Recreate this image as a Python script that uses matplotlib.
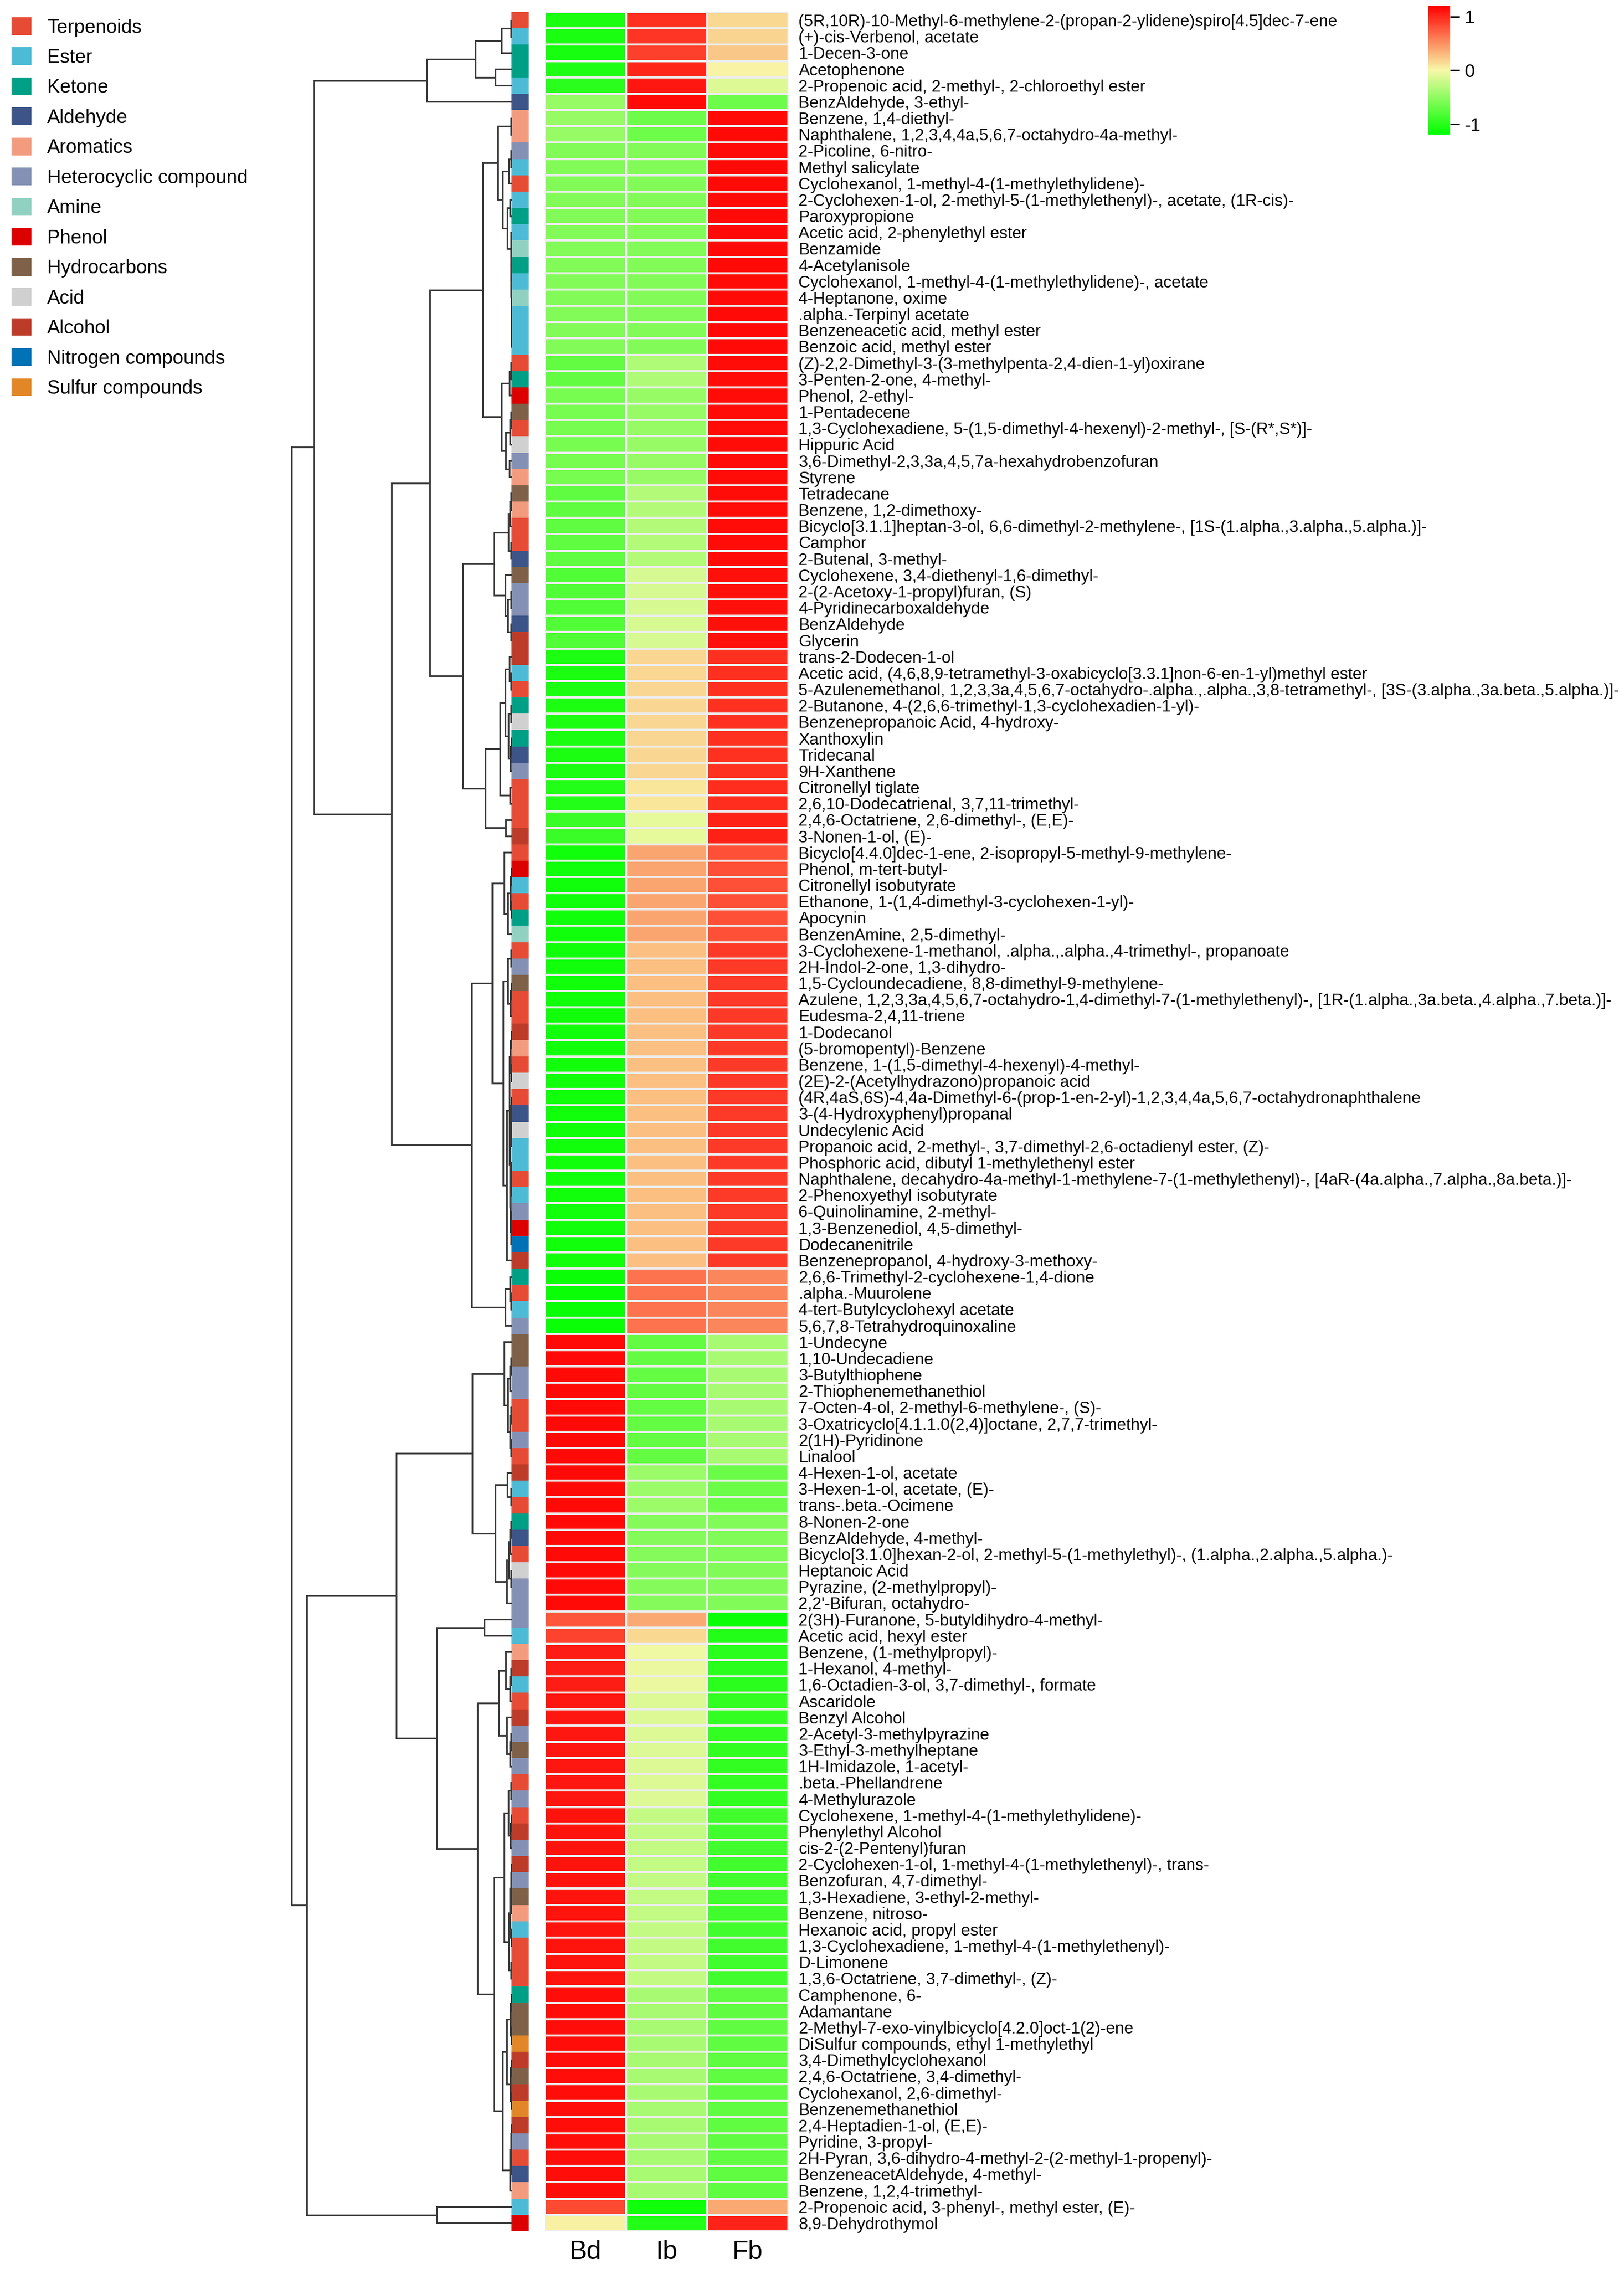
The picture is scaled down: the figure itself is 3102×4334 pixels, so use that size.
import matplotlib
matplotlib.use('Agg')
import matplotlib.pyplot as plt
import numpy as np
from matplotlib.colors import LinearSegmentedColormap, ListedColormap, Normalize, BoundaryNorm
from matplotlib.cm import ScalarMappable
from matplotlib.patches import Patch

plt.rcParams['font.family'] = ['Liberation Sans', 'DejaVu Sans']
plt.rcParams['axes.unicode_minus'] = False

samples = ['Bd', 'Ib', 'Fb']

compounds = [
    '(5R,10R)-10-Methyl-6-methylene-2-(propan-2-ylidene)spiro[4.5]dec-7-ene',
    '(+)-cis-Verbenol, acetate',
    '1-Decen-3-one',
    'Acetophenone',
    '2-Propenoic acid, 2-methyl-, 2-chloroethyl ester',
    'BenzAldehyde, 3-ethyl-',
    'Benzene, 1,4-diethyl-',
    'Naphthalene, 1,2,3,4,4a,5,6,7-octahydro-4a-methyl-',
    '2-Picoline, 6-nitro-',
    'Methyl salicylate',
    'Cyclohexanol, 1-methyl-4-(1-methylethylidene)-',
    '2-Cyclohexen-1-ol, 2-methyl-5-(1-methylethenyl)-, acetate, (1R-cis)-',
    'Paroxypropione',
    'Acetic acid, 2-phenylethyl ester',
    'Benzamide',
    '4-Acetylanisole',
    'Cyclohexanol, 1-methyl-4-(1-methylethylidene)-, acetate',
    '4-Heptanone, oxime',
    '.alpha.-Terpinyl acetate',
    'Benzeneacetic acid, methyl ester',
    'Benzoic acid, methyl ester',
    '(Z)-2,2-Dimethyl-3-(3-methylpenta-2,4-dien-1-yl)oxirane',
    '3-Penten-2-one, 4-methyl-',
    'Phenol, 2-ethyl-',
    '1-Pentadecene',
    '1,3-Cyclohexadiene, 5-(1,5-dimethyl-4-hexenyl)-2-methyl-, [S-(R*,S*)]-',
    'Hippuric Acid',
    '3,6-Dimethyl-2,3,3a,4,5,7a-hexahydrobenzofuran',
    'Styrene',
    'Tetradecane',
    'Benzene, 1,2-dimethoxy-',
    'Bicyclo[3.1.1]heptan-3-ol, 6,6-dimethyl-2-methylene-, [1S-(1.alpha.,3.alpha.,5.alpha.)]-',
    'Camphor',
    '2-Butenal, 3-methyl-',
    'Cyclohexene, 3,4-diethenyl-1,6-dimethyl-',
    '2-(2-Acetoxy-1-propyl)furan, (S)',
    '4-Pyridinecarboxaldehyde',
    'BenzAldehyde',
    'Glycerin',
    'trans-2-Dodecen-1-ol',
    'Acetic acid, (4,6,8,9-tetramethyl-3-oxabicyclo[3.3.1]non-6-en-1-yl)methyl ester',
    '5-Azulenemethanol, 1,2,3,3a,4,5,6,7-octahydro-.alpha.,.alpha.,3,8-tetramethyl-, [3S-(3.alpha.,3a.beta.,5.alpha.)]-',
    '2-Butanone, 4-(2,6,6-trimethyl-1,3-cyclohexadien-1-yl)-',
    'Benzenepropanoic Acid, 4-hydroxy-',
    'Xanthoxylin',
    'Tridecanal',
    '9H-Xanthene',
    'Citronellyl tiglate',
    '2,6,10-Dodecatrienal, 3,7,11-trimethyl-',
    '2,4,6-Octatriene, 2,6-dimethyl-, (E,E)-',
    '3-Nonen-1-ol, (E)-',
    'Bicyclo[4.4.0]dec-1-ene, 2-isopropyl-5-methyl-9-methylene-',
    'Phenol, m-tert-butyl-',
    'Citronellyl isobutyrate',
    'Ethanone, 1-(1,4-dimethyl-3-cyclohexen-1-yl)-',
    'Apocynin',
    'BenzenAmine, 2,5-dimethyl-',
    '3-Cyclohexene-1-methanol, .alpha.,.alpha.,4-trimethyl-, propanoate',
    '2H-Indol-2-one, 1,3-dihydro-',
    '1,5-Cycloundecadiene, 8,8-dimethyl-9-methylene-',
    'Azulene, 1,2,3,3a,4,5,6,7-octahydro-1,4-dimethyl-7-(1-methylethenyl)-, [1R-(1.alpha.,3a.beta.,4.alpha.,7.beta.)]-',
    'Eudesma-2,4,11-triene',
    '1-Dodecanol',
    '(5-bromopentyl)-Benzene',
    'Benzene, 1-(1,5-dimethyl-4-hexenyl)-4-methyl-',
    '(2E)-2-(Acetylhydrazono)propanoic acid',
    '(4R,4aS,6S)-4,4a-Dimethyl-6-(prop-1-en-2-yl)-1,2,3,4,4a,5,6,7-octahydronaphthalene',
    '3-(4-Hydroxyphenyl)propanal',
    'Undecylenic Acid',
    'Propanoic acid, 2-methyl-, 3,7-dimethyl-2,6-octadienyl ester, (Z)-',
    'Phosphoric acid, dibutyl 1-methylethenyl ester',
    'Naphthalene, decahydro-4a-methyl-1-methylene-7-(1-methylethenyl)-, [4aR-(4a.alpha.,7.alpha.,8a.beta.)]-',
    '2-Phenoxyethyl isobutyrate',
    '6-Quinolinamine, 2-methyl-',
    '1,3-Benzenediol, 4,5-dimethyl-',
    'Dodecanenitrile',
    'Benzenepropanol, 4-hydroxy-3-methoxy-',
    '2,6,6-Trimethyl-2-cyclohexene-1,4-dione',
    '.alpha.-Muurolene',
    '4-tert-Butylcyclohexyl acetate',
    '5,6,7,8-Tetrahydroquinoxaline',
    '1-Undecyne',
    '1,10-Undecadiene',
    '3-Butylthiophene',
    '2-Thiophenemethanethiol',
    '7-Octen-4-ol, 2-methyl-6-methylene-, (S)-',
    '3-Oxatricyclo[4.1.1.0(2,4)]octane, 2,7,7-trimethyl-',
    '2(1H)-Pyridinone',
    'Linalool',
    '4-Hexen-1-ol, acetate',
    '3-Hexen-1-ol, acetate, (E)-',
    'trans-.beta.-Ocimene',
    '8-Nonen-2-one',
    'BenzAldehyde, 4-methyl-',
    'Bicyclo[3.1.0]hexan-2-ol, 2-methyl-5-(1-methylethyl)-, (1.alpha.,2.alpha.,5.alpha.)-',
    'Heptanoic Acid',
    'Pyrazine, (2-methylpropyl)-',
    "2,2'-Bifuran, octahydro-",
    '2(3H)-Furanone, 5-butyldihydro-4-methyl-',
    'Acetic acid, hexyl ester',
    'Benzene, (1-methylpropyl)-',
    '1-Hexanol, 4-methyl-',
    '1,6-Octadien-3-ol, 3,7-dimethyl-, formate',
    'Ascaridole',
    'Benzyl Alcohol',
    '2-Acetyl-3-methylpyrazine',
    '3-Ethyl-3-methylheptane',
    '1H-Imidazole, 1-acetyl-',
    '.beta.-Phellandrene',
    '4-Methylurazole',
    'Cyclohexene, 1-methyl-4-(1-methylethylidene)-',
    'Phenylethyl Alcohol',
    'cis-2-(2-Pentenyl)furan',
    '2-Cyclohexen-1-ol, 1-methyl-4-(1-methylethenyl)-, trans-',
    'Benzofuran, 4,7-dimethyl-',
    '1,3-Hexadiene, 3-ethyl-2-methyl-',
    'Benzene, nitroso-',
    'Hexanoic acid, propyl ester',
    '1,3-Cyclohexadiene, 1-methyl-4-(1-methylethenyl)-',
    'D-Limonene',
    '1,3,6-Octatriene, 3,7-dimethyl-, (Z)-',
    'Camphenone, 6-',
    'Adamantane',
    '2-Methyl-7-exo-vinylbicyclo[4.2.0]oct-1(2)-ene',
    'DiSulfur compounds, ethyl 1-methylethyl',
    '3,4-Dimethylcyclohexanol',
    '2,4,6-Octatriene, 3,4-dimethyl-',
    'Cyclohexanol, 2,6-dimethyl-',
    'Benzenemethanethiol',
    '2,4-Heptadien-1-ol, (E,E)-',
    'Pyridine, 3-propyl-',
    '2H-Pyran, 3,6-dihydro-4-methyl-2-(2-methyl-1-propenyl)-',
    'BenzeneacetAldehyde, 4-methyl-',
    'Benzene, 1,2,4-trimethyl-',
    '2-Propenoic acid, 3-phenyl-, methyl ester, (E)-',
    '8,9-Dehydrothymol',
]

# row-scaled values (z-score)
bd = [-1.07, -1.07, -1.08, -1.05, -1.00, -0.47, -0.47, -0.47, -0.57, -0.57,
      -0.57, -0.57, -0.57, -0.57, -0.57, -0.57, -0.57, -0.57, -0.57, -0.57,
      -0.57, -0.72, -0.72, -0.62, -0.62, -0.62, -0.62, -0.62, -0.62, -0.74,
      -0.74, -0.74, -0.74, -0.74, -0.81, -0.81, -0.81, -0.81, -0.81, -1.06,
      -1.06, -1.06, -1.06, -1.06, -1.06, -1.06, -1.06, -1.03, -1.03, -0.91,
      -0.91, -1.12, -1.12, -1.12, -1.12, -1.12, -1.12, -1.11, -1.11, -1.11,
      -1.11, -1.11, -1.11, -1.11, -1.11, -1.11, -1.11, -1.11, -1.11, -1.11,
      -1.11, -1.11, -1.11, -1.11, -1.11, -1.11, -1.11, -1.15, -1.15, -1.15,
      -1.15, 1.15, 1.15, 1.15, 1.15, 1.15, 1.15, 1.15, 1.15, 1.15,
      1.15, 1.15, 1.15, 1.15, 1.15, 1.15, 1.15, 1.15, 0.78, 0.88,
      1.05, 1.05, 1.05, 1.08, 1.08, 1.08, 1.08, 1.08, 1.08, 1.08,
      1.10, 1.10, 1.10, 1.10, 1.10, 1.10, 1.10, 1.10, 1.10, 1.10,
      1.10, 1.13, 1.13, 1.13, 1.13, 1.13, 1.13, 1.13, 1.13, 1.13,
      1.13, 1.13, 1.13, 1.13, 0.84, 0.03]
ib = [0.96, 0.94, 0.89, 1.02, 1.08, 1.15, -0.67, -0.67, -0.57, -0.57,
      -0.57, -0.57, -0.57, -0.57, -0.57, -0.57, -0.57, -0.57, -0.57, -0.57,
      -0.57, -0.35, -0.35, -0.47, -0.47, -0.47, -0.47, -0.47, -0.47, -0.33,
      -0.33, -0.33, -0.33, -0.33, -0.16, -0.16, -0.16, -0.16, -0.16, 0.16,
      0.16, 0.16, 0.16, 0.16, 0.16, 0.16, 0.16, 0.09, 0.09, -0.09,
      -0.09, 0.40, 0.40, 0.40, 0.40, 0.40, 0.40, 0.28, 0.28, 0.28,
      0.28, 0.28, 0.28, 0.28, 0.28, 0.28, 0.28, 0.28, 0.28, 0.28,
      0.28, 0.28, 0.28, 0.28, 0.28, 0.28, 0.28, 0.64, 0.64, 0.64,
      0.64, -0.72, -0.72, -0.72, -0.72, -0.72, -0.72, -0.72, -0.72, -0.45,
      -0.45, -0.45, -0.56, -0.56, -0.56, -0.56, -0.56, -0.56, 0.38, 0.15,
      -0.04, -0.06, -0.06, -0.14, -0.14, -0.14, -0.14, -0.14, -0.14, -0.14,
      -0.26, -0.26, -0.26, -0.26, -0.26, -0.26, -0.26, -0.26, -0.26, -0.26,
      -0.26, -0.38, -0.38, -0.38, -0.38, -0.38, -0.38, -0.38, -0.38, -0.38,
      -0.38, -0.38, -0.38, -0.38, -1.12, -1.03]
fb = [0.15, 0.17, 0.23, 0.02, -0.14, -0.67, 1.15, 1.15, 1.15, 1.15,
      1.15, 1.15, 1.15, 1.15, 1.15, 1.15, 1.15, 1.15, 1.15, 1.15,
      1.15, 1.14, 1.14, 1.14, 1.14, 1.14, 1.14, 1.14, 1.14, 1.14,
      1.14, 1.14, 1.14, 1.14, 1.12, 1.12, 1.12, 1.12, 1.12, 0.96,
      0.96, 0.96, 0.96, 0.96, 0.96, 0.96, 0.96, 0.98, 0.98, 1.04,
      1.04, 0.81, 0.81, 0.81, 0.81, 0.81, 0.81, 0.91, 0.91, 0.91,
      0.91, 0.91, 0.91, 0.91, 0.91, 0.91, 0.91, 0.91, 0.91, 0.91,
      0.91, 0.91, 0.91, 0.91, 0.91, 0.91, 0.91, 0.55, 0.55, 0.55,
      0.55, -0.38, -0.38, -0.38, -0.38, -0.38, -0.38, -0.38, -0.38, -0.68,
      -0.68, -0.68, -0.58, -0.58, -0.58, -0.58, -0.58, -0.58, -1.16, -1.03,
      -1.00, -1.00, -1.00, -0.95, -0.95, -0.95, -0.95, -0.95, -0.95, -0.95,
      -0.88, -0.88, -0.88, -0.88, -0.88, -0.88, -0.88, -0.88, -0.88, -0.88,
      -0.88, -0.74, -0.74, -0.74, -0.74, -0.74, -0.74, -0.74, -0.74, -0.74,
      -0.74, -0.74, -0.74, -0.74, 0.38, 1.03]

class_names = ['Terpenoids', 'Ester', 'Ketone', 'Aldehyde', 'Aromatics',
               'Heterocyclic compound', 'Amine', 'Phenol', 'Hydrocarbons',
               'Acid', 'Alcohol', 'Nitrogen compounds', 'Sulfur compounds']
class_colors = ['#E64B35', '#4DBBD5', '#00A087', '#3C5488', '#F39B7F',
                '#8491B4', '#91D1C2', '#DC0000', '#7E6148', '#D0D0D0',
                '#BC3C29', '#0072B5', '#E18727']
class_keys = ['Ter', 'Est', 'Ket', 'Ald', 'Aro', 'Het', 'Ami', 'Phe', 'Hyd',
              'Aci', 'Alc', 'Nit', 'Sul']

row_class = [
    'Ter', 'Est', 'Ket', 'Ket', 'Est', 'Ald', 'Aro', 'Aro', 'Het', 'Est',
    'Ter', 'Est', 'Ket', 'Est', 'Ami', 'Ket', 'Est', 'Ami', 'Est', 'Est',
    'Est', 'Ter', 'Ket', 'Phe', 'Hyd', 'Ter', 'Aci', 'Het', 'Aro', 'Hyd',
    'Aro', 'Ter', 'Ter', 'Ald', 'Hyd', 'Het', 'Het', 'Ald', 'Alc', 'Alc',
    'Est', 'Ter', 'Ket', 'Aci', 'Ket', 'Ald', 'Het', 'Ter', 'Ter', 'Ter',
    'Alc', 'Ter', 'Phe', 'Est', 'Ter', 'Ket', 'Ami', 'Ter', 'Het', 'Hyd',
    'Ter', 'Ter', 'Alc', 'Aro', 'Ter', 'Aci', 'Ter', 'Ald', 'Aci', 'Est',
    'Est', 'Ter', 'Est', 'Het', 'Phe', 'Nit', 'Alc', 'Ket', 'Ter', 'Est',
    'Het', 'Hyd', 'Hyd', 'Het', 'Het', 'Ter', 'Ter', 'Het', 'Ter', 'Alc',
    'Est', 'Ter', 'Ket', 'Ald', 'Ter', 'Aci', 'Het', 'Het', 'Het', 'Est',
    'Aro', 'Alc', 'Est', 'Ter', 'Alc', 'Het', 'Hyd', 'Het', 'Ter', 'Het',
    'Ter', 'Alc', 'Het', 'Alc', 'Het', 'Hyd', 'Aro', 'Est', 'Ter', 'Ter',
    'Ter', 'Ket', 'Hyd', 'Hyd', 'Sul', 'Alc', 'Hyd', 'Alc', 'Sul', 'Alc',
    'Het', 'Ter', 'Ald', 'Aro', 'Est', 'Phe',
]

# row dendrogram: (merge height, left, right); leaves are 1-based row numbers
top6 = (163, (70, (20, (2.3, 1, 2), 3), (32, 4, 5)), 6)
y2b = (2.0, 14, (1.8, 15, (1.6, 16, (1.4, 17, (1.2, 18, (1.0, 19, (0.8, 20, 21)))))))
b1a = (56,
       (27, (2.3, 7, 8), (17.7, (6, (2.3, 9, 10), 11), (9, (4.3, 12, 13), y2b))),
       (20, (5, (2.3, 22, 23), 24), (11.7, (4, (2, 25, 26), 27), (5, 28, 29))))
b1b = (94,
       (35, (6.7, (4, (2, 30, 31), 32), (2, 33, 34)),
            (13.3, 35, (7.7, (2.3, 36, 37), (2.3, 38, 39)))),
       (51, (23.3, (13.3, (5, 40, (2, 41, 42)),
                          (6.7, (2.3, 43, 44), (3, (1.5, 45, 46), 47))),
                   (4.3, 48, 49)),
            (11.7, 50, 51)))
u1 = (5.5, (3, (1.5, 63, 64), (1.5, 65, 66)),
      (4, (2.5, (1, 67, 68), (1, 69, 70)),
          (3, (2, (1, 71, 72), 73), (2, (1, 74, 75), 76))))
b2 = (77,
      (38, (15, 52, (8, (3, (1.5, 53, 54), (1.5, 55, 56)), 57)),
           (17, (8.3, (2.5, 58, 59), (3.5, (1.5, 60, 61), 62)), (10, u1, 77))),
      (13.3, (4.3, 78, (2, 79, 80)), 81))
clade_a = (379, top6, (230, (157, b1a, b1b), b2))
d1 = (76,
      (15, 82, (7.7, (4, (2, 83, 84), 85), (4.5, (2, 86, 87), (2.5, 88, 89)))),
      (31.7, (9, 90, (2.5, 91, 92)),
             (10, (6, (4, (2, 93, 94), 95), (2, 96, 97)), 98)))
d2b = (66,
       (25, (11.7, 101, (4, (2, 102, 103), 104)), (10, 105, (4, (2, 106, 107), 108))),
       (35, (15, (6.7, (2, 109, 110), (3, (1.5, 111, 112), 113)),
                (5.7, (4, (2.5, (1, 114, 115), (1, 116, 117)), (1.5, 118, 119)), (2, 120, 121))),
            (18, (10, (3, (1.5, 122, 123), (1.5, 124, 125)), (3, (1.5, 126, 127), (1.5, 128, 129))),
                 (4.3, (2.5, (1, 130, 131), (1, 132, 133)), 134))))
clade_c = (392, (221, d1, (144, (53, 99, 100), d2b)), (144, 135, 136))
tree = (421, clade_a, clade_c)

W, H = 3102, 4334
n = len(compounds)


def box(x0, y0, x1, y1):
    return [x0 / W, 1 - y1 / H, (x1 - x0) / W, (y1 - y0) / H]


cmap = LinearSegmentedColormap.from_list('gyr', ['#00FF00', '#F8F8A8', '#FF0000'])
norm = Normalize(vmin=-1.2, vmax=1.2)

fig = plt.figure(figsize=(W / 100, H / 100), dpi=100)

# heatmap
ax = fig.add_axes(box(1041, 23, 1506, 4262))
values = np.column_stack([bd, ib, fb])
ax.pcolormesh(np.arange(4), np.arange(n + 1), values, cmap=cmap, norm=norm,
              edgecolors='#EDEDED', linewidth=1.6)
ax.set_xlim(0, 3)
ax.set_ylim(n, 0)
for s in ax.spines.values():
    s.set_visible(False)
ax.yaxis.tick_right()
ax.set_yticks(np.arange(n) + 0.5)
ax.set_yticklabels(compounds)
ax.tick_params(axis='y', length=0, pad=14, labelsize=22.7)
ax.set_xticks(np.arange(3) + 0.5)
ax.set_xticklabels(samples)
ax.tick_params(axis='x', length=0, pad=12, labelsize=36)

# annotation strip
sax = fig.add_axes(box(977, 23, 1010, 4262))
codes = np.array([class_keys.index(c) for c in row_class]).reshape(-1, 1)
sax.pcolormesh(np.arange(2), np.arange(n + 1), codes,
               cmap=ListedColormap(class_colors),
               norm=BoundaryNorm(np.arange(len(class_keys) + 1) - 0.5, len(class_keys)))
sax.set_xlim(0, 1)
sax.set_ylim(n, 0)
sax.axis('off')

# dendrogram
dax = fig.add_axes(box(538, 23, 978, 4262))
dax.set_xlim(440, 0)
dax.set_ylim(n, 0)
dax.axis('off')


def draw(node):
    if isinstance(node, int):
        return node - 0.5, 0.0
    h, a, b = node
    ya, ha = draw(a)
    yb, hb = draw(b)
    dax.plot([ha, h, h, hb], [ya, ya, yb, yb], color='#3A3A3A', lw=2.3,
             solid_joinstyle='miter', solid_capstyle='butt')
    return (ya + yb) / 2, h


draw(tree)

# colour key
cax = fig.add_axes(box(2728, 11, 2770, 257))
cb = fig.colorbar(ScalarMappable(norm=norm, cmap=cmap), cax=cax, ticks=[-1, 0, 1])
cb.outline.set_visible(False)
cax.tick_params(labelsize=25, length=13, width=2, pad=7)

# class legend
handles = [Patch(facecolor=c, edgecolor='none') for c in class_colors]
fig.legend(handles, class_names, loc='upper left', bbox_to_anchor=(22 / W, 1 - 33 / H),
           frameon=False, fontsize=26.6, handlelength=1.03, handleheight=1.03,
           handletextpad=0.81, labelspacing=0.54, borderpad=0, borderaxespad=0)

fig.savefig('out.png', dpi=100)
